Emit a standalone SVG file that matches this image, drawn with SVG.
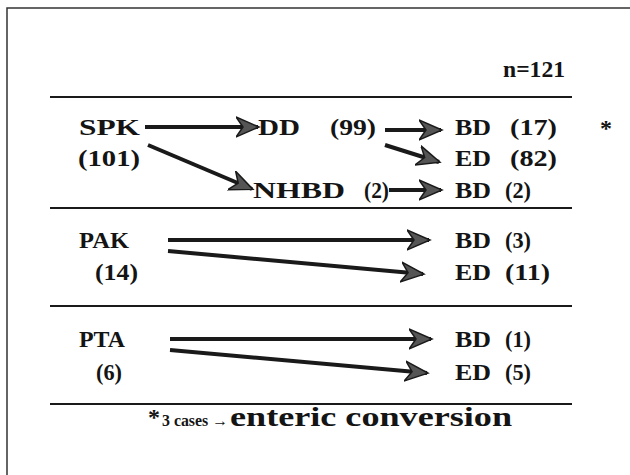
<svg xmlns="http://www.w3.org/2000/svg" width="630" height="475" viewBox="0 0 630 475">
<style>
text{font-family:"Liberation Serif","DejaVu Serif",serif;font-weight:bold;fill:#141414;font-size:24px}
.sep{stroke:#1a1a1a;stroke-width:2}
.arr{stroke:#1a1a1a;stroke-width:4;fill:none;marker-end:url(#ah)}
.small{font-size:16px}
.big{font-size:27px}
</style>
<defs>
<marker id="ah" markerUnits="userSpaceOnUse" markerWidth="26" markerHeight="22" refX="22" refY="11" orient="auto" viewBox="0 0 26 22">
<path d="M0,1 L23,11 L0,21 L7,11 Z" fill="#555" stroke="#1a1a1a" stroke-width="1.5" stroke-linejoin="miter"/>
</marker>
</defs>
<rect x="0" y="0" width="630" height="475" fill="#fff"/>
<path d="M7,475 V8 H630" fill="none" stroke="#333" stroke-width="1.5"/>
<g id="separators">
<line class="sep" x1="50" y1="97" x2="572" y2="97"/>
<line class="sep" x1="50" y1="208" x2="572" y2="208"/>
<line class="sep" x1="50" y1="306" x2="572" y2="306"/>
<line class="sep" x1="50" y1="404" x2="572" y2="404"/>
</g>
<g font-family="Liberation Serif, serif">
<g id="n"><text x="503" y="77" textLength="62" lengthAdjust="spacingAndGlyphs">n=121</text></g>
<g id="spk"><text x="79" y="135" textLength="61" lengthAdjust="spacingAndGlyphs">SPK</text><text x="78" y="166" textLength="62" lengthAdjust="spacingAndGlyphs">(101)</text></g>
<g id="dd"><text x="258" y="135" textLength="42" lengthAdjust="spacingAndGlyphs">DD</text><text x="330" y="135" textLength="46" lengthAdjust="spacingAndGlyphs">(99)</text></g>
<g id="bd17"><text x="455" y="135" textLength="36" lengthAdjust="spacingAndGlyphs">BD</text><text x="510" y="135" textLength="47" lengthAdjust="spacingAndGlyphs">(17)</text><text x="600" y="136">*</text></g>
<g id="ed82"><text x="455" y="166" textLength="36" lengthAdjust="spacingAndGlyphs">ED</text><text x="510" y="166" textLength="47" lengthAdjust="spacingAndGlyphs">(82)</text></g>
<g id="nhbd"><text x="253" y="198" textLength="92" lengthAdjust="spacingAndGlyphs">NHBD</text><text x="364" y="198" textLength="25" lengthAdjust="spacingAndGlyphs">(2)</text></g>
<g id="bd2"><text x="455" y="198" textLength="36" lengthAdjust="spacingAndGlyphs">BD</text><text x="505" y="198" textLength="26" lengthAdjust="spacingAndGlyphs">(2)</text></g>
<g id="pak"><text x="79" y="248" textLength="50" lengthAdjust="spacingAndGlyphs">PAK</text><text x="95" y="280" textLength="43" lengthAdjust="spacingAndGlyphs">(14)</text></g>
<g id="bd3"><text x="455" y="248" textLength="36" lengthAdjust="spacingAndGlyphs">BD</text><text x="505" y="248" textLength="26" lengthAdjust="spacingAndGlyphs">(3)</text></g>
<g id="ed11"><text x="455" y="280" textLength="36" lengthAdjust="spacingAndGlyphs">ED</text><text x="505" y="280" textLength="45" lengthAdjust="spacingAndGlyphs">(11)</text></g>
<g id="pta"><text x="79" y="347" textLength="46" lengthAdjust="spacingAndGlyphs">PTA</text><text x="96" y="380" textLength="26" lengthAdjust="spacingAndGlyphs">(6)</text></g>
<g id="bd1"><text x="455" y="347" textLength="36" lengthAdjust="spacingAndGlyphs">BD</text><text x="505" y="347" textLength="26" lengthAdjust="spacingAndGlyphs">(1)</text></g>
<g id="ed5"><text x="455" y="380" textLength="36" lengthAdjust="spacingAndGlyphs">ED</text><text x="505" y="380" textLength="26" lengthAdjust="spacingAndGlyphs">(5)</text></g>
<g id="footnote"><text x="148" y="425">*</text><text class="small" x="162" y="426" textLength="66" lengthAdjust="spacingAndGlyphs">3 cases →</text><text class="big" x="230" y="426" textLength="282" lengthAdjust="spacingAndGlyphs">enteric conversion</text></g>
</g>
<g id="connectors">
<line class="arr" x1="145" y1="127" x2="258" y2="127"/>
<line class="arr" x1="148" y1="145" x2="252" y2="189"/>
<line class="arr" x1="385" y1="130" x2="441" y2="130"/>
<line class="arr" x1="385" y1="145" x2="439" y2="162"/>
<line class="arr" x1="389" y1="190" x2="441" y2="190"/>
<line class="arr" x1="168" y1="240" x2="429" y2="240"/>
<line class="arr" x1="168" y1="251" x2="423" y2="274"/>
<line class="arr" x1="170" y1="339" x2="431" y2="339"/>
<line class="arr" x1="170" y1="350" x2="427" y2="373"/>
</g>
</svg>
